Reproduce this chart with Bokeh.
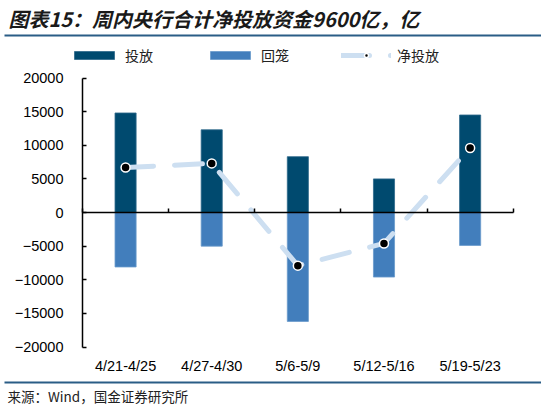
from bokeh.plotting import figure
from bokeh.models import (Range1d, LinearAxis, FixedTicker, Label, Legend, LegendItem)
from bokeh.embed import file_html
from bokeh.resources import INLINE
import numpy as np

categories = ["4/21-4/25", "4/27-4/30", "5/6-5/9", "5/12-5/16", "5/19-5/23"]
injection = [14800, 12300, 8300, 5000, 14500]      # 投放
withdrawal = [-8100, -5000, -16200, -9600, -4900]  # 回笼
net = [6700, 7300, -7900, -4600, 9600]             # 净投放
y_ticks = [-20000, -15000, -10000, -5000, 0, 5000, 10000, 15000, 20000]

W, H = 541, 416
# pixel placement of the plotting area inside the canvas
PX_L, PX_R = 82.0, 512.7
PY_T, PY_B = 77.5, 346.5
YMIN, YMAX = -20000, 20000
n = len(categories)

ux = (PX_R - PX_L) / n
uy = (PY_B - PY_T) / (YMAX - YMIN)
x_range = Range1d(-PX_L / ux, (W - PX_L) / ux)
y_range = Range1d(YMIN - (H - PY_B) / uy, YMAX + PY_T / uy)

def py_to_data(cy):
    return YMAX + (PY_T - cy) / uy

def px_to_data(cx):
    return (cx - PX_L) / ux

x = list(np.arange(n) + 0.5)

p = figure(width=W, height=H, output_backend="svg", toolbar_location=None,
           x_range=x_range, y_range=y_range, x_axis_type=None, y_axis_type=None,
           min_border=0)
p.title.visible = False
p.grid.visible = False
p.outline_line_color = None

FONT = "Liberation Sans"
CJK = "Noto Sans CJK SC"

# y axis
ya = LinearAxis(ticker=FixedTicker(ticks=y_ticks), fixed_location=0, bounds=(YMIN, YMAX))
ya.axis_line_color = "black"
ya.axis_line_width = 1.5
ya.major_tick_in = 4
ya.major_tick_out = 0
ya.major_tick_line_color = "black"
ya.major_tick_line_width = 1.5
ya.minor_tick_line_color = None
ya.major_label_standoff = 19
ya.major_label_text_font = FONT
ya.major_label_text_font_size = "14.5px"
ya.major_label_text_color = "black"
p.add_layout(ya, "left")

# category labels axis
xa = LinearAxis(ticker=FixedTicker(ticks=x), fixed_location=YMIN, bounds=(0, n),
                major_label_overrides={xv: c for xv, c in zip(x, categories)})
xa.axis_line_color = None
xa.major_tick_line_color = None
xa.minor_tick_line_color = None
xa.major_tick_in = 0
xa.major_tick_out = 0
xa.major_label_standoff = 11
xa.major_label_text_font = FONT
xa.major_label_text_font_size = "14.5px"
xa.major_label_text_color = "black"
p.add_layout(xa, "below")

# zero axis line with boundary ticks
za = LinearAxis(fixed_location=0, bounds=(0, n), ticker=FixedTicker(ticks=list(range(n + 1))))
za.axis_line_color = "black"
za.axis_line_width = 1.5
za.major_tick_in = 4
za.major_tick_out = 0
za.major_tick_line_color = "black"
za.major_tick_line_width = 1.5
za.minor_tick_line_color = None
za.major_label_text_font_size = "0px"
za.major_label_text_alpha = 0
za.major_label_standoff = 0
p.add_layout(za, "below")

# decorative rules (title underline and source overline), drawn as bare axis lines
for ry in (35, 382):
    ra = LinearAxis(fixed_location=py_to_data(ry), bounds=(px_to_data(4), px_to_data(W)),
                    ticker=FixedTicker(ticks=[]))
    ra.axis_line_color = "#2A5D86"
    ra.axis_line_width = 2
    ra.major_tick_line_color = None
    ra.minor_tick_line_color = None
    ra.major_tick_in = 0
    ra.major_tick_out = 0
    ra.major_label_text_font_size = "0px"
    ra.major_label_text_alpha = 0
    p.add_layout(ra, "below")

bw = 0.245
r1 = p.vbar(x=x, top=injection, bottom=0, width=bw, fill_color="#004A6F", line_color="#2F6A8C", line_width=0.8)
r2 = p.vbar(x=x, top=withdrawal, bottom=0, width=bw, fill_color="#427EBC", line_color="#6A9ACB", line_width=0.8)
r3 = p.line(x=x, y=net, line_color="#CDDFF1", line_width=5, line_dash="28 21", line_cap="round")
r4 = p.scatter(x=x, y=net, size=9, fill_color="black", line_color="white", line_width=1.5)

legend = Legend(items=[LegendItem(label="投放", renderers=[r1]),
                       LegendItem(label="回笼", renderers=[r2]),
                       LegendItem(label="净投放", renderers=[r3, r4])],
                orientation="horizontal", location=(69, H - 65))
legend.glyph_width = 50
legend.glyph_height = 10
legend.label_standoff = 6
legend.spacing = 52
legend.padding = 0
legend.margin = 0
legend.border_line_color = None
legend.background_fill_alpha = 0
legend.label_text_font = CJK
legend.label_text_font_size = "14px"
legend.label_text_color = "#222222"
legend.label_height = 16
p.add_layout(legend, "center")

def sy(cy):
    return H - cy

p.add_layout(Label(x=8, y=sy(17.5), x_units="screen", y_units="screen",
                   text="图表15：周内央行合计净投放资金9600亿，亿",
                   text_font=CJK, text_font_size="20px", text_font_style="bold italic",
                   text_color="#1A1A1A", text_baseline="middle", text_align="left"))
p.add_layout(Label(x=7, y=sy(395), x_units="screen", y_units="screen",
                   text="来源：Wind，国金证券研究所",
                   text_font=CJK, text_font_size="13.5px", text_color="#222222",
                   text_baseline="middle", text_align="left"))

open("out.html", "w").write(file_html(p, INLINE))
